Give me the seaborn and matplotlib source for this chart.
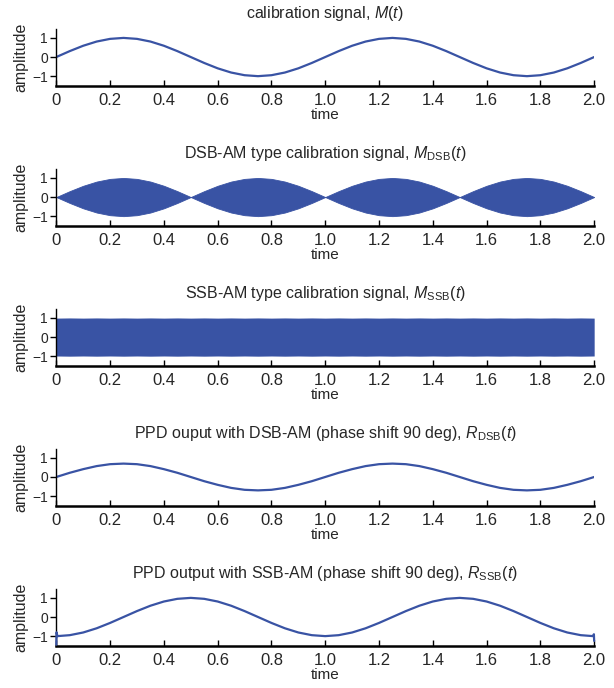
import numpy as np
import pandas as pd
import matplotlib
matplotlib.use("Agg")
import matplotlib.pyplot as plt
import seaborn as sns

# time grid (every 0.05 s)
t = [round(0.05 * k, 2) for k in range(41)]

# calibration signal M(t)
m_vals = [0, 0.31, 0.59, 0.81, 0.95, 1.0, 0.95, 0.81, 0.59, 0.31,
          0, -0.31, -0.59, -0.81, -0.95, -1.0, -0.95, -0.81, -0.59, -0.31,
          0, 0.31, 0.59, 0.81, 0.95, 1.0, 0.95, 0.81, 0.59, 0.31,
          0, -0.31, -0.59, -0.81, -0.95, -1.0, -0.95, -0.81, -0.59, -0.31, 0]

# DSB-AM envelope (carrier too dense to resolve -> filled band)
dsb_env = [0, 0.31, 0.59, 0.81, 0.95, 1.0, 0.95, 0.81, 0.59, 0.31,
           0, 0.31, 0.59, 0.81, 0.95, 1.0, 0.95, 0.81, 0.59, 0.31,
           0, 0.31, 0.59, 0.81, 0.95, 1.0, 0.95, 0.81, 0.59, 0.31,
           0, 0.31, 0.59, 0.81, 0.95, 1.0, 0.95, 0.81, 0.59, 0.31, 0]

# SSB-AM envelope (constant)
ssb_env = [0.99, 1.0, 0.99, 1.0, 0.99, 1.0, 0.99, 1.0, 0.99, 1.0,
           0.99, 1.0, 0.99, 1.0, 0.99, 1.0, 0.99, 1.0, 0.99, 1.0,
           0.99, 1.0, 0.99, 1.0, 0.99, 1.0, 0.99, 1.0, 0.99, 1.0,
           0.99, 1.0, 0.99, 1.0, 0.99, 1.0, 0.99, 1.0, 0.99, 1.0, 0.99]

# PPD output, DSB-AM
r_dsb = [0, 0.22, 0.41, 0.57, 0.67, 0.70, 0.67, 0.57, 0.41, 0.22,
         0, -0.22, -0.41, -0.57, -0.67, -0.70, -0.67, -0.57, -0.41, -0.22,
         0, 0.22, 0.41, 0.57, 0.67, 0.70, 0.67, 0.57, 0.41, 0.22,
         0, -0.22, -0.41, -0.57, -0.67, -0.70, -0.67, -0.57, -0.41, -0.22, 0]

# PPD output, SSB-AM (with the filter transients at both ends)
t_ssb = [0, 0.001, 0.004] + t[1:40] + [1.996, 1.999, 2.0]
r_ssb = [-1.45, -0.8, -1.0] + [-0.95, -0.81, -0.59, -0.31,
         0, 0.31, 0.59, 0.81, 0.95, 1.0, 0.95, 0.81, 0.59, 0.31,
         0, -0.31, -0.59, -0.81, -0.95, -1.0, -0.95, -0.81, -0.59, -0.31,
         0, 0.31, 0.59, 0.81, 0.95, 1.0, 0.95, 0.81, 0.59, 0.31,
         0, -0.31, -0.59, -0.81, -0.95] + [-1.0, -0.9, -1.25]

titles = ["calibration signal, $M(t)$",
          "DSB-AM type calibration signal, $M_{\\mathrm{DSB}}(t)$",
          "SSB-AM type calibration signal, $M_{\\mathrm{SSB}}(t)$",
          "PPD ouput with DSB-AM (phase shift 90 deg), $R_{\\mathrm{DSB}}(t)$",
          "PPD output with SSB-AM (phase shift 90 deg), $R_{\\mathrm{SSB}}(t)$"]
xticks = [0, 0.2, 0.4, 0.6, 0.8, 1.0, 1.2, 1.4, 1.6, 1.8, 2.0]
xticklabels = ["0", "0.2", "0.4", "0.6", "0.8", "1.0", "1.2", "1.4", "1.6", "1.8", "2.0"]
yticks = [-1, 0, 1]

blue = "#3953A4"

sns.set_theme(style="ticks")
plt.rcParams["font.family"] = ["Liberation Sans", "DejaVu Sans"]
plt.rcParams["mathtext.fontset"] = "custom"
plt.rcParams["mathtext.rm"] = "Liberation Sans"
plt.rcParams["mathtext.it"] = "Liberation Sans:italic"
plt.rcParams["axes.unicode_minus"] = True

fig = plt.figure(figsize=(6.14, 6.88), dpi=100)
bottoms = [0.8754, 0.6719, 0.4684, 0.2650, 0.0615]
axes = [fig.add_axes([0.0917, b, 0.876, 0.082]) for b in bottoms]

df1 = pd.DataFrame({"time": t, "amp": m_vals})
sns.lineplot(data=df1, x="time", y="amp", ax=axes[0], color=blue, lw=1.6)

env = np.array(dsb_env)
axes[1].fill_between(t, -env, env, color=blue, lw=0.6)

senv = np.array(ssb_env)
axes[2].fill_between(t, -senv, senv, color=blue, lw=0)

df4 = pd.DataFrame({"time": t, "amp": r_dsb})
sns.lineplot(data=df4, x="time", y="amp", ax=axes[3], color=blue, lw=1.6)

df5 = pd.DataFrame({"time": t_ssb, "amp": r_ssb})
sns.lineplot(data=df5, x="time", y="amp", ax=axes[4], color=blue, lw=1.6,
             sort=False, zorder=5, clip_on=False)

for ax, title in zip(axes, titles):
    ax.set_xlim(0, 2.0)
    ax.set_ylim(-1.5, 1.45)
    ax.set_xticks(xticks)
    ax.set_xticklabels(xticklabels, fontsize=12)
    ax.set_yticks(yticks)
    ax.set_yticklabels(["\u22121", "0", "1"], fontsize=10)
    ax.tick_params(axis="x", direction="in", length=4, width=1, pad=5, color="black")
    ax.tick_params(axis="y", direction="out", length=4, width=1, pad=2, color="black")
    sns.despine(ax=ax)
    ax.spines["bottom"].set_linewidth(1.8)
    ax.spines["left"].set_linewidth(1.0)
    ax.spines["bottom"].set_color("black")
    ax.spines["left"].set_color("black")
    ax.set_xlabel("time", fontsize=11, labelpad=0)
    ax.set_ylabel("amplitude", fontsize=11.5, labelpad=3)
    ax.set_title(title, fontsize=11.5, pad=8)

fig.savefig("out.png", dpi=100)
